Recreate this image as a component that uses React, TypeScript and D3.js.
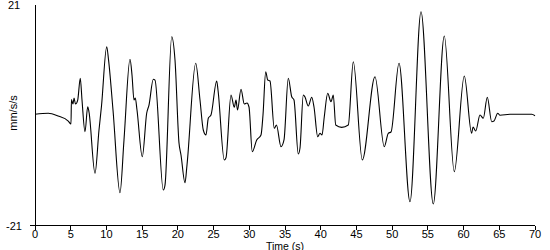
import React from "react";
import * as d3 from "d3";

const times: number[] = [
  0, 1.86, 3.22, 4.66, 5.04, 5.1, 5.32, 5.46, 5.67, 5.98, 6.34, 6.58, 7.0, 7.38, 7.56,
  8.4, 8.96, 9.31, 10.04, 10.3, 10.92, 11.9, 12.46, 13.3, 13.58, 13.86, 14.04, 14.28,
  15.02, 15.64, 15.96, 16.56, 16.8, 17.96, 18.2, 19.14, 19.6, 20.16, 20.44, 21.0, 21.28,
  22.5, 23.1, 23.56, 23.94, 24.26, 24.64, 25.44, 25.62, 26.5, 26.74, 27.44, 27.9, 28.14,
  28.35, 28.84, 29.3, 29.68, 29.96, 30.42, 31.04, 31.64, 31.92, 32.3, 32.58, 32.9, 33.5,
  33.8, 34.44, 34.86, 35.46, 35.94, 36.26, 36.86, 37.1, 37.56, 37.8, 38.26, 38.74, 39.06,
  39.58, 39.9, 40.18, 40.5, 40.98, 41.44, 41.76, 42.1, 42.94, 43.86, 44.56, 45.82, 47.6,
  48.9, 49.46, 49.84, 50.96, 52.5, 54.04, 55.76, 57.3, 58.7, 60.1, 61.13, 61.32, 61.7,
  62.3, 62.76, 63.32, 63.94, 64.26, 64.78, 65.1, 66.5, 69.54, 70,
];

const values: number[] = [
  0.18, 0.37, -0.14, -1.1, -1.67, 3.0, 2.14, 3.29, 2.14, 2.9, 7.04, 2.9, -3.13, 1.63, 0.62,
  -11.06, -2.8, 1.76, 13.06, 10.5, 1.0, -14.75, -4.7, 10.66, 7.67, 2.9, 3.29, 1.0,
  -7.9, 0.43, 1.95, 6.85, 6.7, -14.24, -13.3, 14.96, 10.52, -5.29, -7.57, -12.85, -9.48,
  9.9, 2.9, -2.81, -3.76, -0.58, 0.05, 6.52, 4.81, -8.52, -8.1, 3.86, 1.51, 2.9,
  1.0, 4.94, 2.14, 2.33, 1.57, -6.94, -4.71, -3.76, 0.05, 8.3, 6.71, 6.52, -2.49,
  -1.86, -5.99, -4.71, 7.04, 3.53, 2.9, -7.38, -6.24, 3.86, 3.48, 1.76, 3.42, 1.57,
  -4.09, -3.44, -3.76, -0.28, 4.18, 2.58, 3.86, -1.86, -2.3, -1.86, 10.2, -8.52, 7.34,
  -5.99, -3.44, -3.19, 9.9, -16.47, 19.72, -16.9, 15.1, -10.75, 7.48, -3.44, -2.24, -3.0,
  0.05, -0.58, 3.42, -1.23, -1.1, 0.37, 0.0, 0.18, 0.18, -0.1,
];

const xTicks: number[] = [0, 5, 10, 15, 20, 25, 30, 35, 40, 45, 50, 55, 60, 65, 70];
const yTicks: number[] = [21, -21];
const xTitle = "Time (s)";
const yTitle = "mm/s/s";

export default function App() {
  const x = d3.scaleLinear().domain([0, 70]).range([35, 535]);
  const y = d3.scaleLinear().domain([-21, 21]).range([225.5, 5]);
  const pts: [number, number][] = times.map((t, i) => [t, values[i]]);
  const line = d3
    .line<[number, number]>()
    .x((d) => x(d[0]))
    .y((d) => y(d[1]))
    .curve(d3.curveMonotoneX);
  const font = "'Liberation Sans', Arial, sans-serif";
  const y0 = y(-21);
  return (
    <svg
      width={550}
      height={250}
      style={{ position: "absolute", left: 0, top: 0, background: "#fff" }}
    >
      <rect x={0} y={0} width={550} height={250} fill="#fff" />
      <path d={line(pts) || ""} fill="none" stroke="#000" strokeWidth={1.1} />
      <line x1={x(0)} x2={x(0)} y1={y(21)} y2={y0} stroke="#000" strokeWidth={1} shapeRendering="crispEdges" />
      <line x1={30} x2={x(70)} y1={y0} y2={y0} stroke="#000" strokeWidth={1} shapeRendering="crispEdges" />
      {xTicks.map((t) => (
        <g key={t}>
          <line x1={x(t)} x2={x(t)} y1={y0} y2={y0 + 4} stroke="#000" shapeRendering="crispEdges" />
          <text x={x(t)} y={238} textAnchor="middle" fontFamily={font} fontSize={11} fill="#000">
            {t}
          </text>
        </g>
      ))}
      {yTicks.map((t) => (
        <text key={t} x={14} y={y(t) + 4} textAnchor="middle" fontFamily={font} fontSize={11} fill="#000">
          {t}
        </text>
      ))}
      <text x={285} y={249.5} textAnchor="middle" fontFamily={font} fontSize={10.5} fill="#000">
        {xTitle}
      </text>
      <text
        transform={`translate(17,113) rotate(-90)`}
        textAnchor="middle"
        fontFamily={font}
        fontSize={11}
        fill="#000"
      >
        {yTitle}
      </text>
    </svg>
  );
}
